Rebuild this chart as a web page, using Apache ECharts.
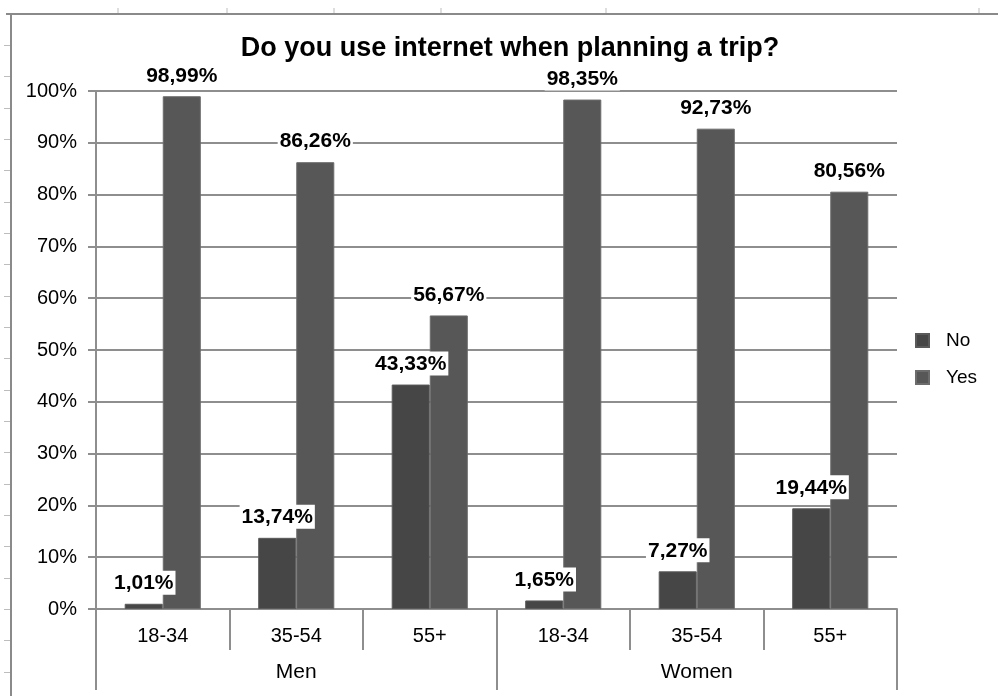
<!DOCTYPE html>
<html>
<head>
<meta charset="utf-8">
<title>Do you use internet when planning a trip?</title>
<script src="https://cdn.jsdelivr.net/npm/echarts@6/dist/echarts.min.js"></script>
<style>
  html, body { margin: 0; padding: 0; background: #ffffff; }
  #chart { width: 998px; height: 696px; }
</style>
</head>
<body>
<div id="chart"></div>
<script>
// Survey answers by age band, split by gender
const ageGroups = ['18-34', '35-54', '55+', '18-34', '35-54', '55+'];
const genders = ['Men', 'Women'];
const noValues = [1.01, 13.74, 43.33, 1.65, 7.27, 19.44];
const yesValues = [98.99, 86.26, 56.67, 98.35, 92.73, 80.56];
const seriesNames = ['No', 'Yes'];

// Sheet column/row stubs around the frame
const sheetColumnStubs = [118, 227, 334, 441, 606, 979];
const sheetRowStubCount = 21;

const FONT = '"Liberation Sans", Arial, sans-serif';
const GRID_GREY = '#8e8e8e';

const fmtPct = v => v.toFixed(2).replace('.', ',') + '%';

const valueLabel = {
  show: true,
  position: 'top',
  distance: 9,
  formatter: p => fmtPct(p.value),
  fontFamily: FONT,
  fontSize: 21,
  fontWeight: 'bold',
  color: '#000000',
  backgroundColor: '#ffffff',
  padding: [2, 2, 1, 2]
};

const frame = [
  { type: 'line', shape: { x1: 6, y1: 14, x2: 998, y2: 14 }, style: { stroke: '#8a8a8a', lineWidth: 2 }, silent: true },
  { type: 'line', shape: { x1: 11, y1: 14, x2: 11, y2: 696 }, style: { stroke: '#8a8a8a', lineWidth: 2 }, silent: true }
];
sheetColumnStubs.forEach(x => frame.push({
  type: 'line', shape: { x1: x, y1: 8, x2: x, y2: 13 }, style: { stroke: '#bdbdbd', lineWidth: 1 }, silent: true
}));
for (let k = 0; k < sheetRowStubCount; k++) {
  const y = Math.round(45 + k * 31.33) + 0.5;
  frame.push({ type: 'line', shape: { x1: 4, y1: y, x2: 10, y2: y }, style: { stroke: '#bdbdbd', lineWidth: 1 }, silent: true });
}

const chart = echarts.init(document.getElementById('chart'), null, { renderer: 'canvas' });

chart.setOption({
  backgroundColor: '#ffffff',
  animation: false,
  title: {
    text: 'Do you use internet when planning a trip?',
    left: 505,
    top: 30,
    textAlign: 'center',
    textStyle: { fontFamily: FONT, fontSize: 27, fontWeight: 'bold', color: '#000000' }
  },
  legend: {
    orient: 'vertical',
    left: 910,
    top: 326,
    itemWidth: 13,
    itemHeight: 13,
    itemGap: 18,
    icon: 'rect',
    data: seriesNames,
    textStyle: { fontFamily: FONT, fontSize: 19, color: '#000000', padding: [0, 0, 0, 12] }
  },
  grid: { left: 96, right: 101, top: 91, bottom: 87, containLabel: false },
  xAxis: [
    {
      type: 'category',
      data: ageGroups,
      position: 'bottom',
      axisLine: { show: true, lineStyle: { color: GRID_GREY, width: 2 } },
      axisTick: { show: true, interval: 0, length: 41, lineStyle: { color: GRID_GREY, width: 2 } },
      axisLabel: { interval: 0, margin: 17, fontFamily: FONT, fontSize: 20, color: '#000000' }
    },
    {
      type: 'category',
      data: genders,
      position: 'bottom',
      axisLine: { show: false },
      axisTick: { show: true, interval: 0, length: 81, lineStyle: { color: GRID_GREY, width: 2 } },
      axisLabel: { interval: 0, margin: 53, fontFamily: FONT, fontSize: 21, color: '#000000' }
    }
  ],
  yAxis: {
    type: 'value',
    min: 0,
    max: 100,
    interval: 10,
    axisLine: { show: true, lineStyle: { color: GRID_GREY, width: 2 } },
    axisTick: { show: true, length: 8, lineStyle: { color: GRID_GREY, width: 2 } },
    splitLine: { show: true, lineStyle: { color: GRID_GREY, width: 2 } },
    axisLabel: { formatter: '{value}%', margin: 19, fontFamily: FONT, fontSize: 20, color: '#000000' }
  },
  series: [
    {
      name: seriesNames[0],
      type: 'bar',
      xAxisIndex: 0,
      data: noValues,
      barGap: '0%',
      barCategoryGap: '43%',
      itemStyle: { color: '#464646', borderColor: '#5a5a5a', borderWidth: 1 },
      label: valueLabel
    },
    {
      name: seriesNames[1],
      type: 'bar',
      xAxisIndex: 0,
      data: yesValues,
      barGap: '0%',
      barCategoryGap: '43%',
      itemStyle: { color: '#575757', borderColor: '#6c6c6c', borderWidth: 1 },
      label: valueLabel
    }
  ],
  graphic: frame
});
</script>
</body>
</html>
